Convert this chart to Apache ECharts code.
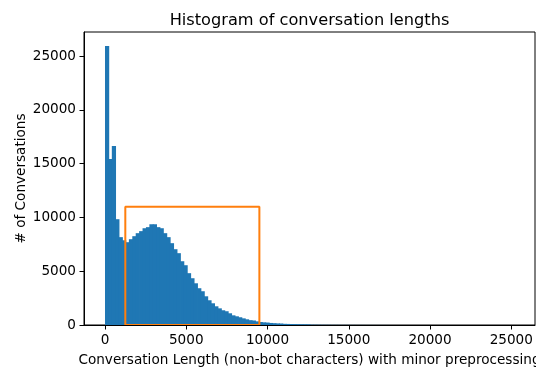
<!DOCTYPE html>
<html><head><meta charset="utf-8">
<script src="https://cdn.jsdelivr.net/npm/echarts@6/dist/echarts.min.js"></script>
<style>html,body{margin:0;padding:0;background:#fff}#c{width:536px;height:367px}</style>
</head><body><div id="c"></div>
<script>
// Histogram: 120 bins of width 210 starting at 0
const binStart = 0;
const binWidth = 210;
const counts = [
  25950, 15430, 16650, 9840, 8170, 7880, 7700, 7980, 8260, 8540,
  8730, 9000, 9100, 9370, 9370, 9100, 9000, 8540, 8170, 7610,
  7050, 6680, 5930, 5560, 4820, 4350, 3880, 3420, 3140, 2670,
  2300, 2020, 1740, 1550, 1370, 1280, 1090, 900, 810, 720,
  620, 530, 450, 420, 340, 280, 250, 230, 190, 170,
  150, 140, 110, 100, 95, 85, 75, 70, 65, 60,
  28, 24, 20, 17, 15, 13, 11, 10, 9, 8,
  7, 7, 6, 6, 5, 5, 4, 4, 4, 3,
  3, 3, 3, 2, 2, 2, 2, 2, 2, 1,
  1, 1, 1, 1, 1, 1, 1, 1, 1, 1,
  1, 1, 1, 0, 1, 0, 1, 0, 1, 0,
  0, 1, 0, 0, 1, 0, 0, 0, 0, 1
];
const xTicks = [0, 5000, 10000, 15000, 20000, 25000];
const yTicks = [0, 5000, 10000, 15000, 20000, 25000];
const boxX = [1250, 1250, 9500, 9500, 1250];
const boxY = [0, 11000, 11000, 0, 0];

const histData = counts.map((c, i) => [binStart + i * binWidth, binStart + (i + 1) * binWidth, c]);
const boxData = boxX.map((x, i) => [x, boxY[i]]);

const FONT = 'DejaVu Sans';
const LBL = 13.6;
const plain = v => String(v);
const chart = echarts.init(document.getElementById('c'), null, {renderer: 'canvas'});
chart.setOption({
  animation: false,
  backgroundColor: '#fff',
  title: {
    text: 'Histogram of conversation lengths',
    left: 309.5, textAlign: 'center', top: 12, padding: 0,
    textStyle: {fontFamily: FONT, fontSize: 16.2, fontWeight: 'normal', color: '#000', lineHeight: 17}
  },
  grid: {left: 84, top: 32, width: 451, height: 293, outerBoundsMode: 'none', containLabel: false,
         show: true, borderColor: '#000', borderWidth: 1, backgroundColor: 'transparent'},
  xAxis: {
    type: 'value', min: -1292, max: 26460, z: 10,
    name: 'Conversation Length (non-bot characters) with minor preprocessing',
    nameLocation: 'middle', nameGap: 28, nameMoveOverlap: false,
    nameTextStyle: {fontFamily: FONT, fontSize: LBL, color: '#000'},
    axisLine: {show: true, onZero: false, lineStyle: {color: '#000', width: 1}},
    axisTick: {show: true, inside: false, length: 4.5, lineStyle: {color: '#000', width: 1}, customValues: xTicks},
    axisLabel: {show: true, margin: 8, fontFamily: FONT, fontSize: LBL, color: '#000', customValues: xTicks, formatter: plain},
    splitLine: {show: false}
  },
  yAxis: {
    type: 'value', min: 0, max: 27250, z: 10,
    name: '# of Conversations',
    nameLocation: 'middle', nameGap: 56, nameMoveOverlap: false,
    nameTextStyle: {fontFamily: FONT, fontSize: LBL, color: '#000'},
    axisLine: {show: true, onZero: false, lineStyle: {color: '#000', width: 1}},
    axisTick: {show: true, inside: false, length: 4.5, lineStyle: {color: '#000', width: 1}, customValues: yTicks},
    axisLabel: {show: true, margin: 8, fontFamily: FONT, fontSize: LBL, color: '#000', customValues: yTicks, formatter: plain},
    splitLine: {show: false}
  },
  series: [
    {
      type: 'custom', z: 2,
      encode: {x: [0, 1], y: 2},
      data: histData,
      renderItem: function (params, api) {
        const p0 = api.coord([api.value(0), api.value(2)]);
        const p1 = api.coord([api.value(1), 0]);
        const last = params.dataIndex === counts.length - 1;
        return {type: 'rect',
                shape: {x: p0[0], y: p0[1], width: p1[0] - p0[0] + (last ? 0 : 0.8), height: p1[1] - p0[1]},
                style: {fill: '#1f77b4'}};
      }
    },
    {
      type: 'line', z: 3, data: boxData, showSymbol: false, symbol: 'none',
      lineStyle: {color: '#ff7f0e', width: 2}, itemStyle: {color: '#ff7f0e'}
    }
  ]
});
</script></body></html>
